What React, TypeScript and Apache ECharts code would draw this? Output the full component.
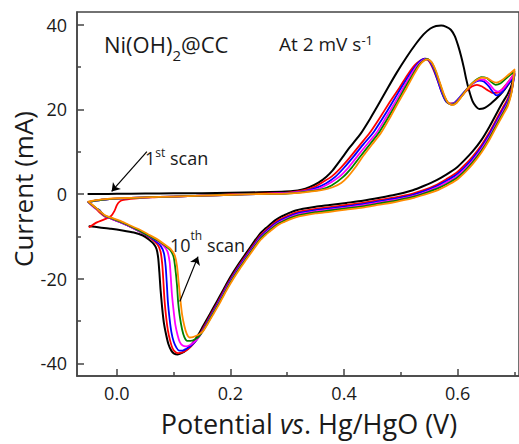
import React, { useEffect, useRef } from 'react';
import * as echarts from 'echarts';

const FONT = "'Open Sans', sans-serif";
const AXIS_COLOR = '#444444';
const TEXT_COLOR = '#1a1a1a';

// Tick values
const xMajorTicks = [0, 0.2, 0.4, 0.6];
const xMinorTicks = [0.1, 0.3, 0.5, 0.7];
const yMajorTicks = [-40, -20, 0, 20, 40];
const yMinorTicks = [-30, -10, 10, 30];

// 1st scan (black)
const blackForward: number[][] = [
  [-0.05, 0.0], [-0.03, 0.0], [0.0, 0.05], [0.05, 0.1], [0.1, 0.15], [0.15, 0.2], [0.2, 0.3], [0.25, 0.4],
  [0.29, 0.55], [0.31, 0.7], [0.325, 1.0], [0.34, 1.7], [0.355, 2.7], [0.369, 4.1], [0.38, 5.6], [0.393, 7.9],
  [0.41, 11.0], [0.43, 14.4], [0.446, 17.8], [0.46, 21.0], [0.476, 24.8], [0.492, 28.5], [0.51, 32.3],
  [0.525, 35.2], [0.54, 37.7], [0.552, 39.1], [0.562, 39.7], [0.571, 39.8], [0.58, 39.5], [0.588, 38.8],
  [0.595, 37.3], [0.601, 35.0], [0.606, 32.6], [0.611, 29.8], [0.615, 27.2], [0.62, 24.5], [0.626, 22.0],
  [0.632, 20.7], [0.638, 20.1], [0.645, 20.2], [0.653, 20.8], [0.661, 21.7], [0.67, 22.8], [0.679, 24.1],
  [0.687, 25.5], [0.694, 26.9], [0.7, 28.3],
];
const blackReverse: number[][] = [
  [0.695, 25.8], [0.688, 23.6], [0.679, 21.6], [0.668, 18.9], [0.656, 15.9], [0.642, 12.8], [0.626, 10.0],
  [0.612, 8.0], [0.598, 6.2], [0.58, 4.6], [0.563, 3.3], [0.54, 1.9], [0.521, 0.9], [0.49, -0.2], [0.463, -0.9],
  [0.433, -1.6], [0.404, -2.1], [0.375, -2.6], [0.35, -3.0], [0.328, -3.5], [0.315, -3.9], [0.305, -4.4],
  [0.295, -5.0], [0.287, -5.5], [0.278, -6.3], [0.27, -7.2], [0.262, -8.1], [0.252, -9.4], [0.24, -11.6],
  [0.228, -13.9], [0.217, -16.0], [0.205, -18.5], [0.194, -21.0], [0.182, -24.0], [0.17, -26.9], [0.16, -29.3],
  [0.152, -31.2], [0.145, -32.9], [0.138, -34.4], [0.13, -35.8], [0.122, -36.9], [0.114, -37.6], [0.107, -37.9],
  [0.101, -37.7], [0.096, -37.0], [0.091, -35.5], [0.087, -33.3], [0.083, -30.5], [0.08, -27.0], [0.077, -22.5],
  [0.075, -18.5], [0.073, -15.2], [0.07, -13.0], [0.065, -11.8], [0.057, -10.8], [0.046, -9.8], [0.03, -9.1],
  [0.01, -8.6], [-0.01, -8.2], [-0.03, -7.9], [-0.048, -7.6],
];

// red
const redForward: number[][] = [
  [-0.048, -7.8], [-0.035, -6.7], [-0.022, -6.0], [-0.01, -5.2], [-0.004, -4.0], [0.0, -2.7], [0.005, -1.8],
  [0.012, -1.4], [0.03, -1.1], [0.06, -0.8], [0.1, -0.6], [0.15, -0.4], [0.2, -0.1], [0.25, 0.1], [0.3, 0.3],
  [0.33, 0.9], [0.35, 1.8], [0.365, 3.0], [0.378, 4.1], [0.393, 6.0], [0.41, 8.6], [0.428, 11.6], [0.445, 14.4],
  [0.462, 17.8], [0.48, 21.6], [0.497, 25.0], [0.512, 28.2], [0.525, 30.5], [0.535, 31.6], [0.542, 32.0],
  [0.549, 31.5], [0.556, 29.8], [0.563, 27.5], [0.57, 24.8], [0.577, 22.5], [0.584, 21.4], [0.592, 21.4],
  [0.602, 22.5], [0.614, 24.2], [0.625, 25.4], [0.634, 25.8], [0.643, 25.4], [0.652, 24.6], [0.662, 23.9],
  [0.672, 24.0], [0.682, 25.3], [0.692, 27.0], [0.7, 28.6],
];
const redReverse: number[][] = [
  [0.695, 25.0], [0.688, 22.5], [0.679, 20.3], [0.668, 17.6], [0.656, 14.6], [0.642, 11.6], [0.626, 8.8],
  [0.612, 6.8], [0.598, 5.0], [0.58, 3.5], [0.563, 2.2], [0.54, 0.9], [0.521, 0.1], [0.49, -0.8], [0.463, -1.4],
  [0.433, -2.1], [0.404, -2.6], [0.375, -3.1], [0.35, -3.5], [0.328, -4.0], [0.315, -4.4], [0.305, -4.9],
  [0.295, -5.5], [0.287, -6.0], [0.278, -6.8], [0.27, -7.7], [0.262, -8.6], [0.252, -9.9], [0.24, -12.1],
  [0.228, -14.4], [0.217, -16.5], [0.205, -19.0], [0.194, -21.5], [0.182, -24.5], [0.17, -27.4], [0.16, -29.8],
  [0.152, -31.7], [0.145, -33.5], [0.138, -34.9], [0.13, -36.1], [0.122, -37.0], [0.114, -37.5], [0.108, -37.6],
  [0.103, -37.3], [0.098, -36.4], [0.094, -34.7], [0.09, -32.2], [0.087, -29.2], [0.084, -25.0], [0.082, -20.5],
  [0.08, -16.5], [0.077, -13.6], [0.072, -12.0], [0.062, -10.7], [0.05, -9.6], [0.035, -8.5], [0.02, -7.5],
  [0.005, -6.6], [-0.01, -5.8], [-0.02, -5.4], [-0.03, -4.4], [-0.04, -3.0], [-0.05, -1.9],
];

// blue
const blueForward: number[][] = [
  [-0.05, -1.9], [-0.04, -1.6], [-0.02, -1.3], [0.0, -1.1], [0.05, -0.8], [0.1, -0.6], [0.15, -0.4], [0.2, -0.2],
  [0.25, 0.0], [0.3, 0.2], [0.33, 0.7], [0.35, 1.4], [0.368, 2.5], [0.385, 4.1], [0.4, 6.2], [0.417, 8.9],
  [0.435, 11.9], [0.451, 14.4], [0.468, 17.9], [0.485, 21.6], [0.5, 25.0], [0.515, 28.2], [0.528, 30.6],
  [0.537, 31.7], [0.544, 32.0], [0.551, 31.3], [0.558, 29.5], [0.565, 26.8], [0.572, 24.0], [0.579, 22.0],
  [0.586, 21.3], [0.594, 21.5], [0.604, 22.9], [0.616, 24.8], [0.628, 26.2], [0.638, 26.8], [0.646, 26.6],
  [0.655, 25.4], [0.663, 23.9], [0.669, 23.3], [0.678, 24.0], [0.689, 26.0], [0.7, 28.0],
];
const blueReverse: number[][] = [
  [0.695, 24.6], [0.688, 22.0], [0.679, 19.8], [0.668, 17.1], [0.656, 14.1], [0.642, 11.1], [0.626, 8.3],
  [0.612, 6.3], [0.598, 4.6], [0.58, 3.1], [0.563, 1.9], [0.54, 0.6], [0.521, -0.2], [0.49, -1.1], [0.463, -1.7],
  [0.433, -2.4], [0.404, -2.9], [0.375, -3.4], [0.35, -3.8], [0.328, -4.3], [0.315, -4.7], [0.305, -5.2],
  [0.295, -5.8], [0.287, -6.3], [0.278, -7.1], [0.27, -8.0], [0.262, -8.9], [0.252, -10.2], [0.24, -12.4],
  [0.228, -14.7], [0.217, -16.8], [0.205, -19.3], [0.194, -21.8], [0.182, -24.8], [0.17, -27.7], [0.16, -30.1],
  [0.152, -32.0], [0.145, -33.6], [0.138, -34.9], [0.13, -35.9], [0.122, -36.6], [0.116, -37.0], [0.11, -37.0],
  [0.105, -36.3], [0.1, -34.8], [0.096, -32.5], [0.093, -29.5], [0.09, -25.5], [0.088, -21.0], [0.086, -17.0],
  [0.083, -14.0], [0.077, -12.2], [0.066, -10.9], [0.052, -9.7], [0.037, -8.6], [0.02, -7.5], [0.005, -6.6],
  [-0.01, -5.8], [-0.02, -5.3], [-0.026, -4.6], [-0.03, -3.8], [-0.036, -3.4], [-0.043, -2.7], [-0.05, -1.9],
];

// magenta
const magentaForward: number[][] = [
  [-0.05, -1.9], [-0.04, -1.6], [-0.02, -1.3], [0.0, -1.1], [0.05, -0.8], [0.1, -0.6], [0.15, -0.4], [0.2, -0.2],
  [0.25, 0.0], [0.3, 0.2], [0.33, 0.6], [0.355, 1.2], [0.373, 2.4], [0.392, 4.1], [0.408, 6.3], [0.424, 9.0],
  [0.442, 12.0], [0.457, 14.4], [0.473, 17.9], [0.49, 21.7], [0.504, 25.0], [0.518, 28.2], [0.53, 30.5],
  [0.539, 31.6], [0.546, 31.9], [0.553, 31.2], [0.56, 29.3], [0.567, 26.6], [0.574, 23.8], [0.581, 21.9],
  [0.588, 21.2], [0.596, 21.5], [0.606, 23.0], [0.618, 25.0], [0.63, 26.5], [0.64, 27.1], [0.648, 26.9],
  [0.657, 25.8], [0.665, 24.5], [0.671, 24.2], [0.68, 24.8], [0.69, 26.6], [0.7, 28.4],
];
const magentaReverse: number[][] = [
  [0.695, 24.3], [0.688, 21.5], [0.679, 19.3], [0.668, 16.6], [0.656, 13.6], [0.642, 10.6], [0.626, 7.8],
  [0.612, 5.8], [0.598, 4.1], [0.58, 2.7], [0.563, 1.5], [0.54, 0.3], [0.521, -0.5], [0.49, -1.4], [0.463, -2.0],
  [0.433, -2.7], [0.404, -3.2], [0.375, -3.7], [0.35, -4.1], [0.328, -4.6], [0.315, -5.0], [0.305, -5.5],
  [0.295, -6.1], [0.287, -6.6], [0.278, -7.4], [0.27, -8.3], [0.262, -9.2], [0.252, -10.5], [0.24, -12.7],
  [0.228, -15.0], [0.217, -17.1], [0.205, -19.6], [0.194, -22.1], [0.182, -25.1], [0.17, -28.0], [0.16, -30.4],
  [0.152, -32.2], [0.145, -33.7], [0.137, -34.9], [0.13, -35.6], [0.122, -36.0], [0.116, -35.8], [0.111, -35.0],
  [0.107, -33.3], [0.103, -30.8], [0.1, -27.5], [0.097, -23.5], [0.095, -19.5], [0.093, -16.0], [0.089, -13.5],
  [0.082, -12.2], [0.07, -10.9], [0.055, -9.8], [0.04, -8.8], [0.022, -7.6], [0.005, -6.6], [-0.01, -5.8],
  [-0.02, -5.3], [-0.028, -4.3], [-0.033, -3.8], [-0.04, -3.2], [-0.05, -1.9],
];

// green
const greenForward: number[][] = [
  [-0.05, -1.9], [-0.04, -1.6], [-0.02, -1.3], [0.0, -1.1], [0.05, -0.8], [0.1, -0.6], [0.15, -0.4], [0.2, -0.2],
  [0.25, 0.0], [0.3, 0.1], [0.33, 0.5], [0.358, 1.0], [0.378, 2.0], [0.399, 4.1], [0.414, 6.3], [0.43, 9.1],
  [0.447, 12.0], [0.461, 14.4], [0.477, 17.9], [0.493, 21.6], [0.507, 25.0], [0.521, 28.2], [0.532, 30.5],
  [0.541, 31.6], [0.547, 31.9], [0.554, 31.1], [0.561, 29.1], [0.568, 26.4], [0.575, 23.6], [0.582, 21.7],
  [0.589, 21.1], [0.597, 21.5], [0.607, 23.1], [0.619, 25.2], [0.631, 26.8], [0.642, 27.6], [0.651, 27.4],
  [0.659, 26.5], [0.667, 25.8], [0.675, 26.1], [0.686, 27.4], [0.7, 29.0],
];
const greenReverse: number[][] = [
  [0.695, 24.2], [0.688, 21.1], [0.679, 18.9], [0.668, 16.2], [0.656, 13.2], [0.642, 10.2], [0.626, 7.4],
  [0.612, 5.4], [0.598, 3.7], [0.58, 2.3], [0.563, 1.2], [0.54, 0.1], [0.521, -0.7], [0.49, -1.6], [0.463, -2.2],
  [0.433, -2.9], [0.404, -3.4], [0.375, -3.9], [0.35, -4.3], [0.328, -4.8], [0.315, -5.2], [0.305, -5.7],
  [0.295, -6.3], [0.287, -6.8], [0.278, -7.6], [0.27, -8.5], [0.262, -9.4], [0.252, -10.7], [0.24, -12.9],
  [0.228, -15.2], [0.217, -17.3], [0.205, -19.8], [0.194, -22.3], [0.182, -25.3], [0.17, -28.1], [0.16, -30.5],
  [0.152, -32.3], [0.145, -33.6], [0.138, -34.3], [0.13, -34.7], [0.124, -34.7], [0.119, -33.8], [0.115, -32.0],
  [0.111, -29.0], [0.108, -25.5], [0.106, -21.5], [0.103, -17.5], [0.1, -14.8], [0.094, -13.2], [0.085, -12.2],
  [0.072, -11.0], [0.057, -9.9], [0.04, -8.7], [0.022, -7.5], [0.005, -6.5], [-0.01, -5.7], [-0.02, -5.2],
  [-0.03, -4.0], [-0.04, -3.0], [-0.05, -1.9],
];

// orange (10th scan)
const orangeForward: number[][] = [
  [-0.05, -1.8], [-0.04, -1.5], [-0.02, -1.2], [0.0, -1.0], [0.05, -0.8], [0.1, -0.6], [0.15, -0.4], [0.2, -0.2],
  [0.25, 0.0], [0.3, 0.1], [0.33, 0.4], [0.36, 0.9], [0.38, 1.6], [0.395, 2.6], [0.407, 4.1], [0.42, 6.3],
  [0.435, 9.2], [0.45, 11.8], [0.465, 14.4], [0.48, 17.8], [0.495, 21.5], [0.51, 25.0], [0.523, 28.2],
  [0.534, 30.6], [0.542, 31.6], [0.548, 31.8], [0.555, 31.0], [0.562, 29.0], [0.569, 26.2], [0.576, 23.5],
  [0.583, 21.6], [0.59, 21.0], [0.598, 21.5], [0.608, 23.2], [0.62, 25.3], [0.632, 26.8], [0.643, 27.5],
  [0.652, 27.4], [0.66, 26.7], [0.668, 26.3], [0.677, 26.8], [0.688, 28.0], [0.7, 29.4],
];
const orangeReverse: number[][] = [
  [0.695, 24.0], [0.688, 20.7], [0.679, 18.5], [0.668, 15.8], [0.656, 12.8], [0.642, 9.8], [0.626, 7.0],
  [0.612, 5.0], [0.598, 3.3], [0.58, 1.9], [0.563, 0.8], [0.54, -0.2], [0.521, -1.0], [0.49, -1.9], [0.463, -2.5],
  [0.433, -3.2], [0.404, -3.7], [0.375, -4.2], [0.35, -4.6], [0.328, -5.1], [0.315, -5.5], [0.305, -6.0],
  [0.295, -6.6], [0.287, -7.1], [0.278, -7.9], [0.27, -8.8], [0.262, -9.7], [0.252, -11.0], [0.24, -13.2],
  [0.228, -15.5], [0.217, -17.6], [0.205, -20.1], [0.194, -22.6], [0.182, -25.6], [0.17, -28.4], [0.16, -30.7],
  [0.152, -32.4], [0.146, -33.1], [0.14, -33.5], [0.134, -33.8], [0.128, -33.9], [0.123, -33.0], [0.119, -31.2],
  [0.115, -28.5], [0.112, -25.0], [0.109, -21.0], [0.106, -17.0], [0.102, -14.5], [0.095, -13.0], [0.085, -12.0],
  [0.07, -10.6], [0.055, -9.5], [0.04, -8.4], [0.02, -7.2], [0.005, -6.3], [-0.01, -5.6], [-0.02, -5.1],
  [-0.03, -4.0], [-0.04, -2.9], [-0.05, -1.8],
];

// annotation arrows (data coordinates: tail, tip)
const firstScanArrow = [[0.053, 10.0], [-0.009, 0.6]];
const tenthScanArrow = [[0.111, -25.4], [0.143, -14.8]];

let measureCtx: CanvasRenderingContext2D | null = null;
function textWidth(text: string, size: number, style = 'normal') {
  if (!measureCtx) measureCtx = document.createElement('canvas').getContext('2d');
  measureCtx!.font = `${style} ${size}px 'Open Sans'`;
  return measureCtx!.measureText(text).width;
}

type Part = { t: string; size: number; cy: number; gap?: number };
function textRun(x0: number, parts: Part[]) {
  let x = x0;
  return parts.map((p) => {
    const el = {
      type: 'text',
      x,
      y: p.cy,
      silent: true,
      style: {
        text: p.t,
        fontSize: p.size,
        fontFamily: FONT,
        fill: TEXT_COLOR,
        align: 'left',
        verticalAlign: 'middle',
      },
    };
    x += textWidth(p.t, p.size) + (p.gap || 0);
    return el;
  });
}

export default function App() {
  const ref = useRef<HTMLDivElement>(null);
  useEffect(() => {
    const chart = echarts.init(ref.current!, null, { renderer: 'svg' });
    const axisLine = { show: true, onZero: false, lineStyle: { color: AXIS_COLOR, width: 1.5 } };
    const noLine = { show: false, onZero: false };
    const tickStyle = { color: AXIS_COLOR, width: 1.5 };
    const mkSeries = (name: string, color: string, fwd: number[][], rev: number[][], width: number, extra: any = {}) => ({
      type: 'line',
      name,
      data: [...fwd, ...rev],
      showSymbol: false,
      symbol: 'none',
      smooth: 0.2,
      lineStyle: { color, width, join: 'round', cap: 'round' },
      itemStyle: { color },
      xAxisIndex: 0,
      yAxisIndex: 0,
      ...extra,
    });

    const graphics: any[] = [
      ...textRun(104, [
        { t: 'Ni(OH)', size: 22, cy: 43.5 },
        { t: '2', size: 15, cy: 54.5 },
        { t: '@CC', size: 22, cy: 43.5 },
      ]),
      ...textRun(279, [
        { t: 'At 2 mV s', size: 19, cy: 43.6 },
        { t: '-1', size: 13, cy: 40 },
      ]),
      ...textRun(145, [
        { t: '1', size: 18, cy: 158 },
        { t: 'st', size: 12, cy: 152.3 },
        { t: ' scan', size: 18, cy: 158 },
      ]),
      ...textRun(170, [
        { t: '10', size: 18, cy: 245 },
        { t: 'th', size: 12, cy: 235.5 },
        { t: ' scan', size: 18, cy: 245 },
      ]),
      {
        type: 'text',
        x: 309,
        y: 423,
        silent: true,
        style: {
          text: '{n|Potential }{i|vs}{n|. Hg/HgO (V)}',
          align: 'center',
          verticalAlign: 'middle',
          rich: {
            n: { fontSize: 27, fontFamily: FONT, fill: TEXT_COLOR, color: TEXT_COLOR },
            i: { fontSize: 27, fontFamily: FONT, fontStyle: 'italic', fill: TEXT_COLOR, color: TEXT_COLOR },
          },
        },
      },
      {
        type: 'text',
        x: 23,
        y: 189,
        rotation: Math.PI / 2,
        silent: true,
        style: {
          text: 'Current (mA)',
          fontSize: 26,
          fontFamily: FONT,
          fill: TEXT_COLOR,
          align: 'center',
          verticalAlign: 'middle',
        },
      },
    ];

    chart.setOption({
      animation: false,
      backgroundColor: '#ffffff',
      grid: {
        left: 77,
        top: 12,
        width: 443,
        height: 364,
        show: true,
        borderColor: AXIS_COLOR,
        borderWidth: 1.5,
        backgroundColor: 'transparent',
      },
      xAxis: [
        {
          type: 'value',
          min: -0.07,
          max: 0.708,
          axisLine,
          axisTick: { show: true, inside: true, length: 7, lineStyle: tickStyle, customValues: xMajorTicks },
          axisLabel: {
            show: true,
            customValues: xMajorTicks,
            formatter: (v: number) => v.toFixed(1),
            fontSize: 18,
            fontFamily: FONT,
            color: TEXT_COLOR,
            margin: 8,
          },
          splitLine: { show: false },
        },
        {
          type: 'value',
          position: 'bottom',
          min: -0.07,
          max: 0.708,
          axisLine: noLine,
          axisTick: { show: true, inside: true, length: 4, lineStyle: tickStyle, customValues: xMinorTicks },
          axisLabel: { show: false },
          splitLine: { show: false },
        },
      ],
      yAxis: [
        {
          type: 'value',
          min: -43,
          max: 43,
          axisLine,
          axisTick: { show: true, inside: true, length: 7, lineStyle: tickStyle, customValues: yMajorTicks },
          axisLabel: {
            show: true,
            customValues: yMajorTicks,
            formatter: (v: number) => String(v),
            fontSize: 18,
            fontFamily: FONT,
            color: TEXT_COLOR,
            margin: 10,
          },
          splitLine: { show: false },
        },
        {
          type: 'value',
          position: 'left',
          min: -43,
          max: 43,
          axisLine: noLine,
          axisTick: { show: true, inside: true, length: 4, lineStyle: tickStyle, customValues: yMinorTicks },
          axisLabel: { show: false },
          splitLine: { show: false },
        },
      ],
      series: [
        mkSeries('1st', '#000000', blackForward, blackReverse, 2, {
          markLine: {
            silent: true,
            symbol: ['none', 'arrow'],
            symbolSize: 8,
            label: { show: false },
            lineStyle: { color: '#000000', width: 1.2, type: 'solid' },
            data: [
              [{ coord: firstScanArrow[0] }, { coord: firstScanArrow[1] }],
              [{ coord: tenthScanArrow[0] }, { coord: tenthScanArrow[1] }],
            ],
          },
        }),
        mkSeries('red', '#ff0000', redForward, redReverse, 1.8),
        mkSeries('blue', '#0000ff', blueForward, blueReverse, 1.8),
        mkSeries('magenta', '#ff00ff', magentaForward, magentaReverse, 1.8),
        mkSeries('green', '#008000', greenForward, greenReverse, 1.8),
        mkSeries('orange', '#ff8c00', orangeForward, orangeReverse, 1.8),
      ],
      graphic: graphics,
    });
    return () => chart.dispose();
  }, []);
  return <div ref={ref} style={{ position: 'fixed', left: 0, top: 0, width: 519, height: 444 }} />;
}
